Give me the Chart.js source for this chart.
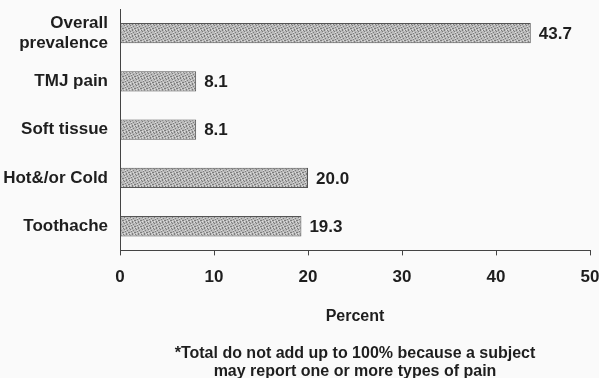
<!DOCTYPE html>
<html>
<head>
<meta charset="utf-8">
<script src="https://cdn.jsdelivr.net/npm/chart.js@4.4.1/dist/chart.umd.min.js"></script>
<style>
  html, body { margin: 0; padding: 0; background: #fafafa; }
  #wrap { position: relative; width: 599px; height: 378px; }
  #note {
    position: absolute; left: 120px; width: 470px; top: 344px;
    text-align: center; font: bold 16px "Liberation Sans", Arial, sans-serif;
    line-height: 18px; color: #1e1e1e;
  }
</style>
</head>
<body>
<div id="wrap">
  <canvas id="chart" width="599" height="378"></canvas>
  <div id="note">*Total do not add up to 100% because a subject<br>may report one or more types of pain</div>
</div>
<script>
const categories = [['Overall', 'prevalence'], 'TMJ pain', 'Soft tissue', 'Hot&/or Cold', 'Toothache'];
const percentValues = [43.7, 8.1, 8.1, 20.0, 19.3];
const valueLabels = ['43.7', '8.1', '8.1', '20.0', '19.3'];
const xTicks = [0, 10, 20, 30, 40, 50];

const FONT = '"Liberation Sans", Arial, sans-serif';
const INK = '#1e1e1e';

// stippled grey like the scanned print
function makeStipple() {
    const c = document.createElement('canvas');
    c.width = 6; c.height = 6;
    const g = c.getContext('2d');
    g.fillStyle = '#bababa';
    g.fillRect(0, 0, 6, 6);
    g.fillStyle = '#7c7c7c';
    [[0,0],[3,0],[1,2],[4,1],[2,4],[5,3],[0,5],[3,4]].forEach(p => g.fillRect(p[0], p[1], 1, 1));
    g.fillStyle = '#dedede';
    [[2,0],[5,2],[1,4],[4,5]].forEach(p => g.fillRect(p[0], p[1], 1, 1));
    return g.createPattern(c, 'repeat');
}

const valueLabelPlugin = {
    id: 'valueLabels',
    afterDatasetsDraw(chart) {
        const ctx = chart.ctx;
        const meta = chart.getDatasetMeta(0);
        ctx.save();
        ctx.font = 'bold 17px ' + FONT;
        ctx.fillStyle = INK;
        ctx.textBaseline = 'middle';
        meta.data.forEach((bar, i) => {
            ctx.fillText(valueLabels[i], bar.x + 8, bar.y + 1);
        });
        ctx.restore();
    }
};

new Chart(document.getElementById('chart').getContext('2d'), {
    type: 'bar',
    data: {
        labels: categories,
        datasets: [{
            data: percentValues,
            backgroundColor: makeStipple(),
            borderColor: '#555',
            borderWidth: 1,
            borderSkipped: false,
            categoryPercentage: 0.84,
            barPercentage: 0.5
        }]
    },
    options: {
        indexAxis: 'y',
        responsive: false,
        animation: false,
        layout: { padding: { top: 9, right: 9, left: 0, bottom: 52 } },
        plugins: { legend: { display: false }, tooltip: { enabled: false } },
        scales: {
            x: {
                min: 0, max: 50,
                afterBuildTicks: (s) => { s.ticks = xTicks.map(v => ({ value: v })); },
                afterFit: (s) => { s.paddingLeft = 0; s.paddingRight = 0; },
                grid: { drawOnChartArea: false, drawTicks: true, tickLength: 5, color: '#444' },
                border: { color: '#444', width: 1 },
                ticks: { color: INK, font: { family: FONT, size: 17, weight: 'bold' }, padding: 12, maxRotation: 0 },
                title: { display: true, text: 'Percent', color: INK, font: { family: FONT, size: 16, weight: 'bold' }, padding: { top: 7, bottom: 0 } }
            },
            y: {
                afterFit: (s) => { s.width = 120; s.paddingTop = 0; s.paddingBottom = 0; },
                grid: { drawOnChartArea: false, drawTicks: false },
                border: { color: '#444', width: 1 },
                ticks: { color: INK, font: { family: FONT, size: 17, weight: 'bold', lineHeight: 1.15 }, padding: 12 }
            }
        }
    },
    plugins: [valueLabelPlugin]
});
</script>
</body>
</html>
